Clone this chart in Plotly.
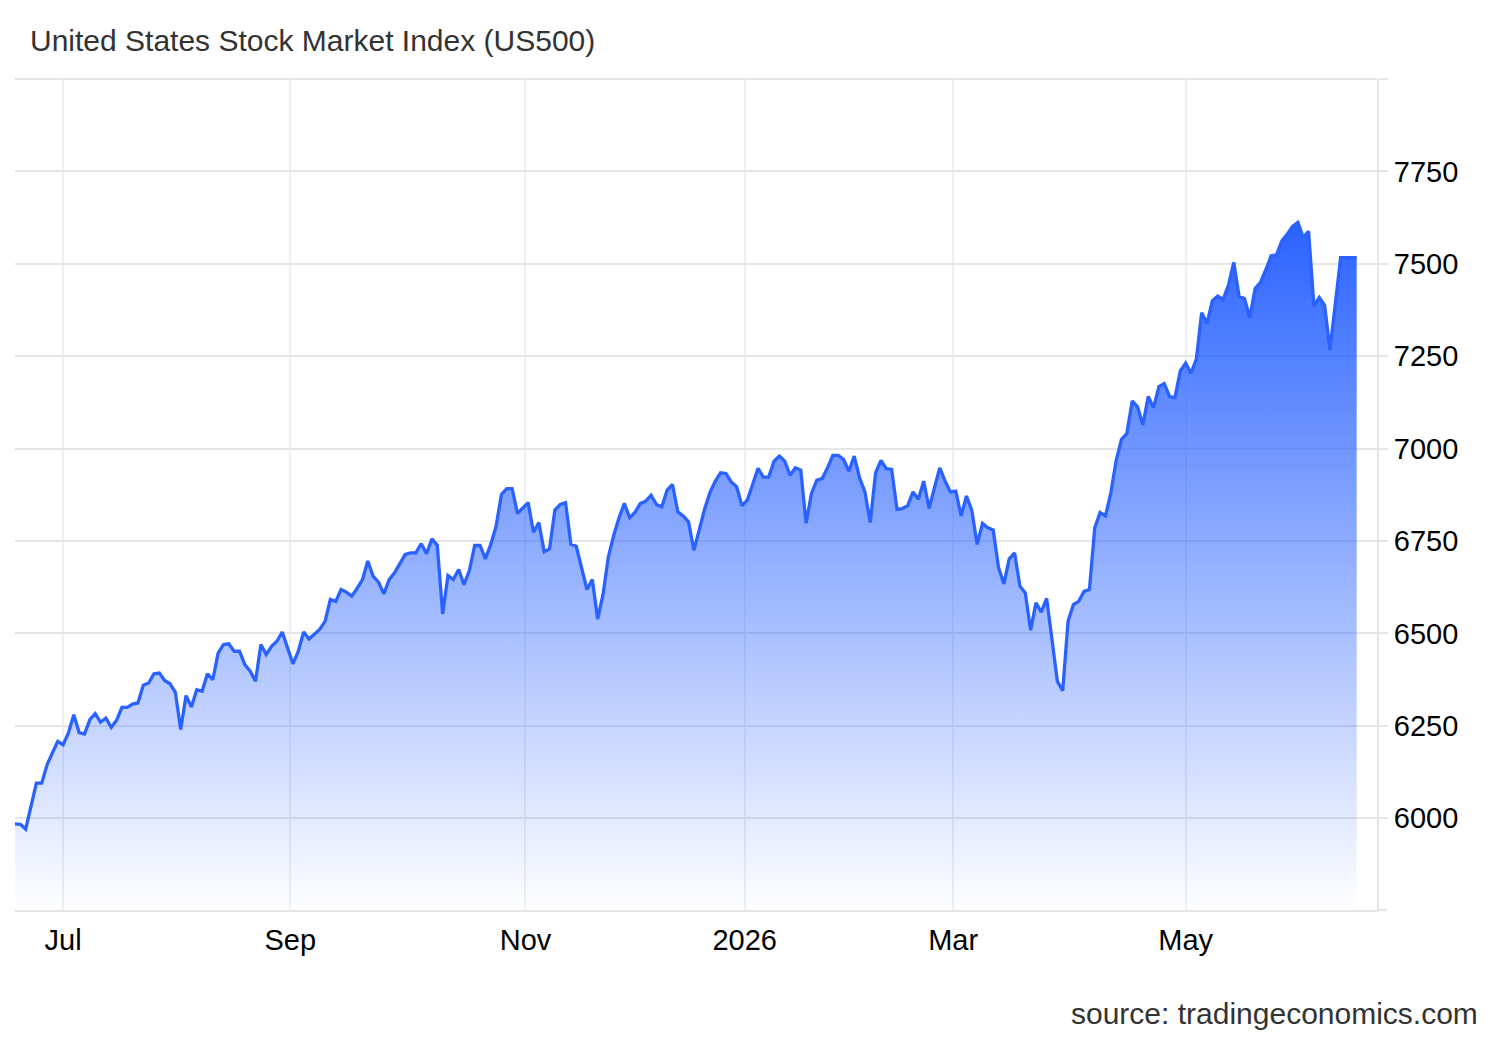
import pandas as pd
import plotly.graph_objects as go

# ---------------- data ----------------
start_date = "2025-06-17"
holidays = ["2025-06-19", "2025-07-04", "2025-09-01", "2025-11-27", "2025-12-25",
            "2026-01-01", "2026-01-19", "2026-02-16", "2026-04-03", "2026-05-25",
            "2026-06-19"]

values = [
    5985, 5984, 5971, 6032, 6095, 6095, 6145, 6177, 6208, 6199,
    6231, 6280, 6232, 6228, 6267, 6283, 6260, 6271, 6246, 6265,
    6300, 6300, 6309, 6312, 6360, 6366, 6391, 6393, 6373, 6364,
    6341, 6240, 6332, 6301, 6348, 6344, 6391, 6375, 6447, 6470,
    6472, 6452, 6452, 6416, 6398, 6371, 6470, 6443, 6465, 6479,
    6504, 6461, 6418, 6452, 6504, 6485, 6497, 6511, 6533, 6592,
    6587, 6619, 6612, 6601, 6622, 6646, 6696, 6655, 6639, 6607,
    6646, 6664, 6689, 6714, 6718, 6718, 6743, 6716, 6756, 6738,
    6553, 6657, 6646, 6673, 6632, 6670, 6738, 6738, 6702, 6741,
    6790, 6876, 6892, 6892, 6825, 6840, 6854, 6774, 6800, 6721,
    6729, 6834, 6849, 6854, 6741, 6736, 6678, 6619, 6646, 6539,
    6605, 6707, 6765, 6813, 6852, 6813, 6828, 6852, 6858, 6874,
    6849, 6843, 6888, 6903, 6829, 6818, 6802, 6725, 6780, 6836,
    6881, 6912, 6935, 6933, 6910, 6897, 6846, 6861, 6903, 6947,
    6923, 6923, 6966, 6980, 6966, 6928, 6948, 6942, 6798, 6879,
    6915, 6919, 6948, 6982, 6982, 6971, 6939, 6980, 6921, 6883,
    6800, 6935, 6968, 6946, 6944, 6836, 6838, 6846, 6883, 6863,
    6912, 6838, 6894, 6948, 6912, 6883, 6885, 6818, 6872, 6833,
    6741, 6798, 6786, 6780, 6678, 6634, 6702, 6718, 6628, 6610,
    6509, 6583, 6558, 6595, 6483, 6371, 6345, 6533, 6578, 6587,
    6614, 6619, 6786, 6827, 6818, 6880, 6968, 7025, 7041, 7129,
    7113, 7064, 7141, 7111, 7168, 7176, 7141, 7138, 7210, 7231,
    7204, 7242, 7368, 7339, 7400, 7413, 7403, 7442, 7504, 7412,
    7406, 7355, 7433, 7450, 7484, 7522, 7524, 7562, 7580, 7601,
    7612, 7571, 7588, 7386, 7409, 7388, 7267, 7390, 7517, 7517,
    7517, 7517,
]

tick_dates = ["2025-07-01", "2025-09-01", "2025-11-01", "2026-01-01", "2026-03-01", "2026-05-01"]
tick_labels = ["Jul", "Sep", "Nov", "2026", "Mar", "May"]

y_ticks = [6000, 6250, 6500, 6750, 7000, 7250, 7500, 7750, 8000]
y_tick_labels = ["6000", "6250", "6500", "6750", "7000", "7250", "7500", "7750", ""]

title_text = "United States Stock Market Index (US500)"
source_text = "source: tradingeconomics.com"

# ---------------- trading-day (ordinal) axis ----------------
bdays = pd.bdate_range(start_date, periods=len(values) + 40)
bdays = [d for d in bdays if d.strftime("%Y-%m-%d") not in holidays][:len(values)]
dates = pd.DatetimeIndex(bdays)
xpos = list(range(len(dates)))


def ordinal_pos(date_str):
    d = pd.Timestamp(date_str)
    idx = int((dates < d).sum())
    if idx < len(dates) and dates[idx] == d:
        return idx
    return idx - 0.5


tick_pos = [ordinal_pos(d) for d in tick_dates]

FONT = "Liberation Sans, Arial, Helvetica, sans-serif"
LINE = "#2962ff"
GRID = "#e6e6e6"

fig = go.Figure()
fig.add_trace(go.Scatter(
    x=xpos, y=values, mode="lines",
    line=dict(color=LINE, width=3.3),
    fill="tozeroy",
    fillgradient=dict(
        type="vertical",
        colorscale=[[0, "rgba(41,98,255,0.0)"], [1, "rgba(41,98,255,1)"]],
        start=5752, stop=7620,
    ),
    customdata=[d.strftime("%Y-%m-%d") for d in dates],
    hovertemplate="%{customdata}: %{y}<extra></extra>",
    showlegend=False,
))

fig.update_layout(
    width=1500, height=1040,
    margin=dict(l=15, r=123, t=79, b=130),
    paper_bgcolor="white", plot_bgcolor="white",
    font=dict(family=FONT, color="#000000"),
    title=dict(text=title_text, x=30 / 1500, xanchor="left", xref="container",
               y=1 - 40 / 1040, yanchor="middle", yref="container",
               font=dict(size=30, color="#333333", family=FONT)),
    xaxis=dict(
        range=[0, 254.8], tickvals=tick_pos, ticktext=tick_labels,
        showgrid=True, gridcolor="#eceff4", gridwidth=1.5,
        showline=True, linecolor=GRID, linewidth=2,
        ticks="", zeroline=False, ticklabelstandoff=3,
        tickfont=dict(size=29, color="#000000"),
    ),
    yaxis=dict(
        side="right", range=[5752, 8000], tickvals=y_ticks, ticktext=y_tick_labels,
        showgrid=True, gridcolor=GRID, gridwidth=2,
        showline=True, linecolor=GRID, linewidth=2,
        ticks="outside", ticklen=9, tickwidth=2, tickcolor=GRID,
        zeroline=False, tickfont=dict(size=29, color="#000000"),
    ),
    shapes=[
        dict(type="line", xref="paper", yref="paper", x0=0, x1=1, y0=1, y1=1,
             line=dict(color=GRID, width=2), layer="below"),
        dict(type="line", xref="paper", yref="paper", x0=1, x1=1 + 10 / 1362, y0=0, y1=0,
             line=dict(color=GRID, width=2), layer="below"),
    ],
    annotations=[dict(
        text=source_text, xref="paper", yref="paper",
        x=(1480 - 15) / 1362, y=(910 - 1014) / 831,
        xanchor="right", yanchor="middle", showarrow=False,
        font=dict(size=30, color="#333333", family=FONT),
    )],
)

fig.write_html("out.html")
